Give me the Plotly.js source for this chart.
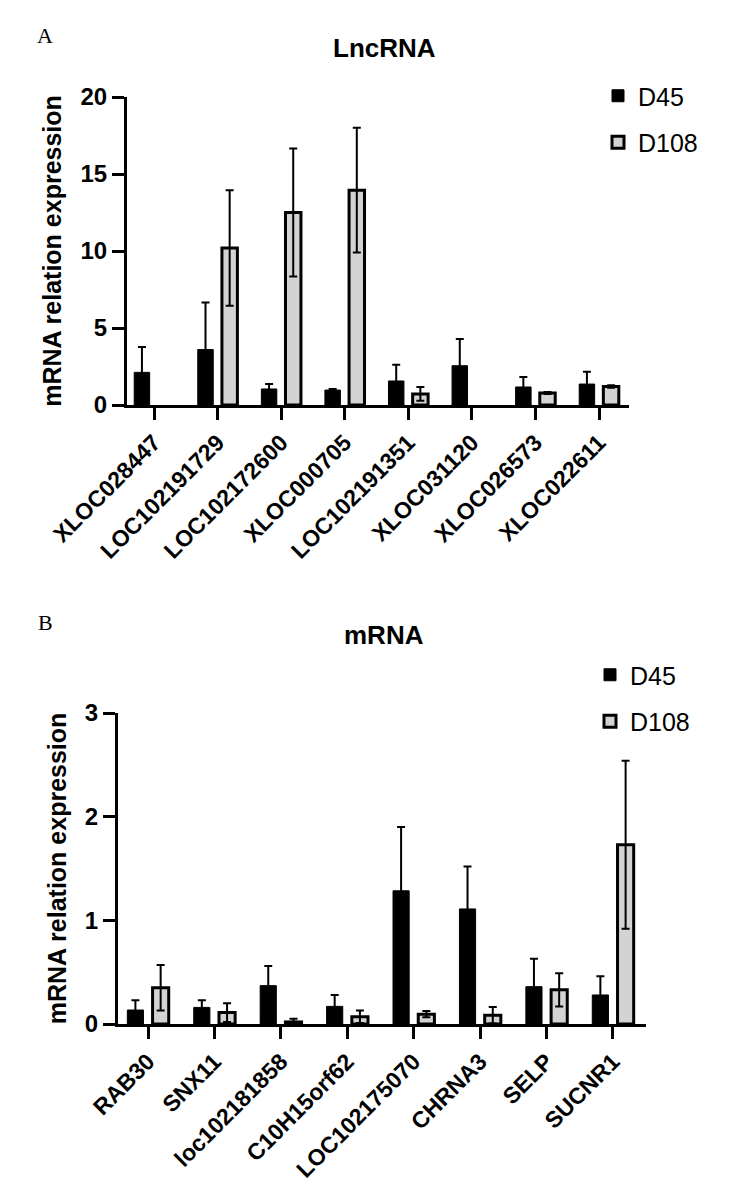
<!DOCTYPE html>
<html>
<head>
<meta charset="utf-8">
<script src="https://cdn.plot.ly/plotly-3.0.1.min.js"></script>
<style>
  body { margin: 0; background: #ffffff; }
  #chart { width: 732px; height: 1190px; }
</style>
</head>
<body>
<div id="chart"></div>
<script>
//---------------------------------------datos - start-----------------------------------------------
var lnc_genes = ['XLOC028447', 'LOC102191729', 'LOC102172600', 'XLOC000705',
                 'LOC102191351', 'XLOC031120', 'XLOC026573', 'XLOC022611'];
var lnc_d45 = [2.12, 3.6, 1.04, 0.97, 1.56, 2.55, 1.17, 1.36];
var lnc_d45_err = [1.65, 3.05, 0.32, 0.07, 1.05, 1.73, 0.65, 0.8];
var lnc_d108 = [null, 10.2, 12.5, 13.95, 0.72, null, 0.78, 1.2];
var lnc_d108_err = [null, 3.75, 4.15, 4.05, 0.45, null, 0.07, 0.08];

var mrna_genes = ['RAB30', 'SNX11', 'loc102181858', 'C10H15orf62',
                  'LOC102175070', 'CHRNA3', 'SELP', 'SUCNR1'];
var mrna_d45 = [0.135, 0.16, 0.37, 0.17, 1.285, 1.11, 0.36, 0.28];
var mrna_d45_err = [0.095, 0.07, 0.19, 0.11, 0.615, 0.41, 0.27, 0.18];
var mrna_d108 = [0.35, 0.11, 0.02, 0.07, 0.095, 0.085, 0.33, 1.73];
var mrna_d108_err = [0.22, 0.09, 0.03, 0.06, 0.03, 0.08, 0.16, 0.81];
//---------------------------------------datos - end-----------------------------------------------

var W = 732, H = 1190;
function px(v) { return v / W; }       // pixel -> paper x
function py(v) { return 1 - v / H; }   // pixel -> paper y

var sans = 'Liberation Sans, Arial, sans-serif';
var tick_font = { family: sans, size: 24, color: '#000000', weight: 'bold' };
var cat_font = { family: sans, size: 23, color: '#000000', weight: 'bold' };

function barTrace(name, x, y, err, xa, ya, lg, fill, lw) {
  return {
    type: 'bar',
    name: name,
    x: x,
    y: y,
    xaxis: xa,
    yaxis: ya,
    legend: lg,
    legendgroup: lg + name,
    marker: { color: fill, line: { color: '#000000', width: lw } },
    error_y: { type: 'data', array: err, symmetric: true, color: '#000000', thickness: 2, width: 4 },
    hoverinfo: 'x+y'
  };
}

var data = [
  barTrace('D45', lnc_genes, lnc_d45, lnc_d45_err, 'x', 'y', 'legend', '#000000', 1),
  barTrace('D108', lnc_genes, lnc_d108, lnc_d108_err, 'x', 'y', 'legend', '#d3d3d3', 3),
  barTrace('D45', mrna_genes, mrna_d45, mrna_d45_err, 'x2', 'y2', 'legend2', '#000000', 1),
  barTrace('D108', mrna_genes, mrna_d108, mrna_d108_err, 'x2', 'y2', 'legend2', '#d3d3d3', 3)
];

function xAxis(domain, range, anchor) {
  return {
    domain: domain,
    range: range,
    anchor: anchor,
    type: 'category',
    showline: true,
    linecolor: '#000000',
    linewidth: 3,
    ticks: 'outside',
    ticklen: 12,
    tickwidth: 3,
    tickcolor: '#000000',
    tickangle: -45,
    tickfont: cat_font,
    showgrid: false,
    zeroline: false,
    fixedrange: true
  };
}

function yAxis(domain, range, dtick, anchor) {
  return {
    domain: domain,
    range: range,
    dtick: dtick,
    anchor: anchor,
    showline: true,
    linecolor: '#000000',
    linewidth: 3,
    ticks: 'outside',
    ticklen: 12,
    tickwidth: 3,
    tickcolor: '#000000',
    tickfont: tick_font,
    showgrid: false,
    zeroline: false,
    fixedrange: true,
    title: {
      text: 'mRNA relation expression',
      font: { family: sans, size: 25, color: '#000000', weight: 'bold' },
      standoff: 12
    }
  };
}

function legendBox(x, y) {
  return {
    x: x,
    y: y,
    xanchor: 'left',
    yanchor: 'top',
    bgcolor: 'rgba(0,0,0,0)',
    tracegroupgap: 11,
    font: { family: sans, size: 25, color: '#000000' }
  };
}

function label(text, x, y, font) {
  return { text: text, x: px(x), y: py(y), xref: 'paper', yref: 'paper',
           xanchor: 'center', yanchor: 'middle', showarrow: false, font: font };
}

var letter_font = { family: 'Liberation Serif, serif', size: 22, color: '#000000' };
var title_font = { family: sans, size: 26, color: '#000000', weight: 'bold' };

var layout = {
  width: W,
  height: H,
  margin: { t: 0, r: 0, l: 0, b: 0 },
  paper_bgcolor: '#ffffff',
  plot_bgcolor: '#ffffff',
  barmode: 'group',
  bargap: 0.24,
  bargroupgap: 0.36,
  showlegend: true,
  xaxis: xAxis([px(127), px(629)], [-0.425, 7.472], 'y'),
  yaxis: yAxis([py(405), py(97)], [0, 20], 5, 'x'),
  xaxis2: xAxis([px(118), px(646)], [-0.452, 7.497], 'y2'),
  yaxis2: yAxis([py(1024), py(713)], [0, 3], 1, 'x2'),
  legend: legendBox(px(598), py(73)),
  legend2: legendBox(px(590), py(652)),
  annotations: [
    label('A', 45, 35, letter_font),
    label('LncRNA', 384, 48, title_font),
    label('B', 45, 622, letter_font),
    label('mRNA', 384, 635, title_font)
  ]
};

var config = { displayModeBar: false, displaylogo: false };

Plotly.newPlot('chart', data, layout, config);
</script>
</body>
</html>
